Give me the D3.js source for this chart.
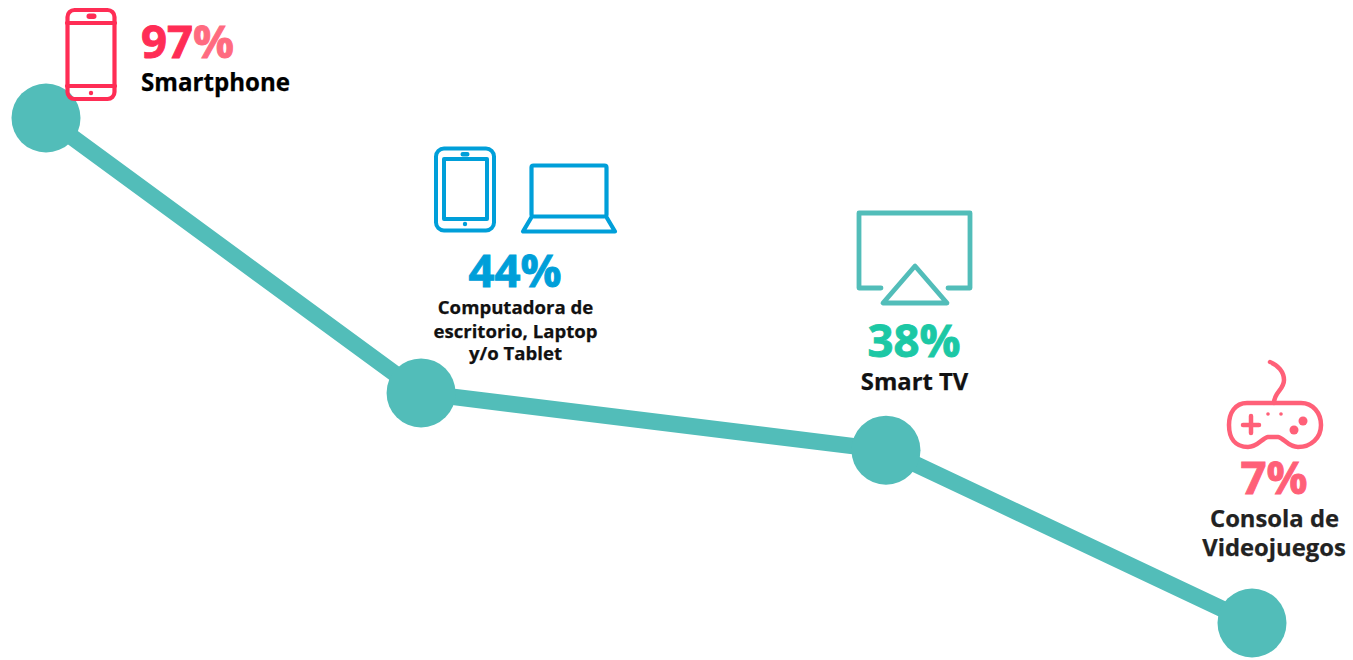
<!DOCTYPE html>
<html><head><meta charset="utf-8">
<script src="https://cdnjs.cloudflare.com/ajax/libs/d3/7.8.5/d3.min.js"></script>
<style>html,body{margin:0;padding:0;background:#fff}svg{display:block}text{font-family:"Open Sans",sans-serif}</style>
</head><body><svg id="c" width="1353" height="660"></svg>
<script>
const categories = ["Smartphone","Computadora de escritorio, Laptop y/o Tablet","Smart TV","Consola de Videojuegos"];
const shareLabels = [97,44,38,7];
const plottedLevels = [97,48,37.8,7];
const stepPositions = [0,31.1,69.65,100];
const lineColor = "#52bdb9";

const svg = d3.select("#c");
const x = d3.scaleLinear().domain([0,100]).range([46,1252]);
const y = d3.scaleLinear().domain([97,7]).range([118,623]);
const pts = categories.map((c,i)=>({c,x:x(stepPositions[i]),y:y(plottedLevels[i])}));

svg.append("path").attr("d",d3.line().x(d=>d.x).y(d=>d.y)(pts))
  .attr("fill","none").attr("stroke",lineColor).attr("stroke-width",16.5);
svg.selectAll("circle.node").data(pts).join("circle").attr("class","node")
  .attr("cx",d=>d.x).attr("cy",d=>d.y).attr("r",34.5).attr("fill",lineColor);

function label(cx,by,val,color,pctColor,size,anchor){
  const t=svg.append("text").attr("x",cx).attr("y",by).attr("text-anchor",anchor)
    .attr("font-size",size).attr("font-weight",700).attr("fill",color)
    .attr("stroke",color).attr("stroke-width",0.9);
  t.append("tspan").text(val);
  t.append("tspan").attr("fill",pctColor).attr("stroke",pctColor).text("%");
}
function line(cx,by,s,size,color,anchor){
  svg.append("text").attr("x",cx).attr("y",by).attr("text-anchor",anchor)
    .attr("font-size",size).attr("font-weight",700).attr("fill",color)
    .attr("stroke",color).attr("stroke-width",0.25).text(s);
}
label(141,58,shareLabels[0],"#ff2d55","#ff6b80",45.5,"start");
line(141,91,"Smartphone",24.1,"#000","start");
label(515,287,shareLabels[1],"#009fd9","#009fd9",45.5,"middle");
line(515.5,314,"Computadora de",18.6,"#111","middle");
line(515.5,338,"escritorio, Laptop",18.6,"#111","middle");
line(515.5,360,"y/o Tablet",18.6,"#111","middle");
label(914,357,shareLabels[2],"#1cc8a5","#1cc8a5",45.5,"middle");
line(914.5,390,"Smart TV",23.8,"#111","middle");
label(1274,494,shareLabels[3],"#ff6078","#ff6078",45.5,"middle");
line(1274.5,527,"Consola de",23.8,"#222","middle");
line(1274,556,"Videojuegos",23.8,"#222","middle");

function stroke(sel,c,w){return sel.attr("fill","none").attr("stroke",c).attr("stroke-width",w).attr("stroke-linejoin","round").attr("stroke-linecap","round");}
function rect(x0,y0,w,h,r,c,sw){stroke(svg.append("rect").attr("x",x0).attr("y",y0).attr("width",w).attr("height",h).attr("rx",r),c,sw);}
function p(d,c,sw){stroke(svg.append("path").attr("d",d),c,sw);}
function dot(cx,cy,r,c){svg.append("circle").attr("cx",cx).attr("cy",cy).attr("r",r).attr("fill",c);}
// phone
const ph="#ff2d55";
rect(67.5,10,47,89,7,ph,4.2);
p("M67 23H115M67 86H115",ph,4.2);
rect(88,15,7,2.5,1.2,ph,3); dot(91,93,2.2,ph);
// tablet
const bl="#009fd9";
rect(436,148.5,58,82,8,bl,4);
rect(444,159,43,60,0,bl,4);
rect(462,153.5,6,1.5,0.7,bl,3); dot(465,224,2.2,bl);
// laptop
rect(531.5,165.5,75,51,2,bl,4.2);
p("M531 218L523 231.5H615L607 218",bl,4.2);
// airplay
const tv=lineColor;
p("M881 288H859V213H970V288H948",tv,4.8);
p("M915 266L883 303H947Z",tv,4.8);
// gamepad
const gp="#ff6078";
p("M1270 362C1278 365 1284 372 1284 380C1284 390 1274 392 1274 403",gp,4.5);
p("M1247 403H1301C1313 403 1321 413 1321 425C1321 438 1311 447 1298 447C1288 447 1284 438 1278 437H1268C1262 438 1258 447 1248 447C1235 447 1229 438 1229 425C1229 413 1235 403 1247 403Z",gp,4.5);
p("M1251 416V433M1243 425H1259",gp,4.5);
dot(1303,421,4.5,gp); dot(1294,430,4.5,gp); dot(1268,414,1.8,gp); dot(1281,414,1.8,gp);
</script></body></html>
